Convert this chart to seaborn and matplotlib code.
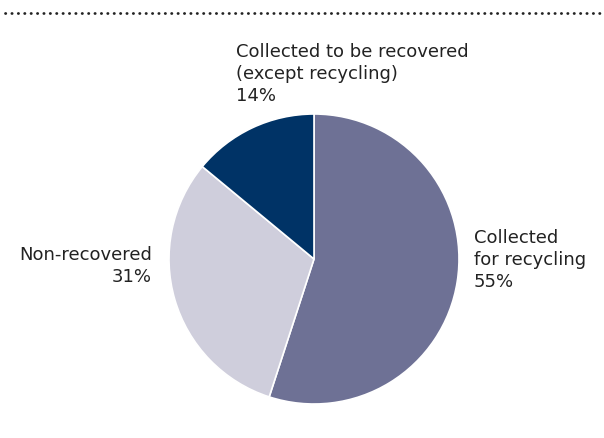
import matplotlib
matplotlib.use('Agg')
import matplotlib.pyplot as plt
import seaborn as sns

# 数据
categories = ['Collected\nfor recycling', 'Non-recovered', 'Collected to be recovered\n(except recycling)']
shares = [55, 31, 14]
colors = ['#6e7195', '#cfcedc', '#003366']

sns.set_theme(style='white')
plt.rcParams['font.family'] = ['DejaVu Sans']

W, H = 604, 439
fig = plt.figure(figsize=(W / 100, H / 100), dpi=100)
ax = fig.add_axes([0, 0, 1, 1])

# 饼图（像素坐标，y向上）
cx, cy, r = 314, H - 260, 145
ax.pie(shares, colors=colors, startangle=90, counterclock=False,
       center=(cx, cy), radius=r, frame=True,
       wedgeprops=dict(edgecolor='white', linewidth=1.2))
ax.set_xlim(0, W)
ax.set_ylim(0, H)
ax.set_aspect('equal')
ax.axis('off')

# 顶部点线
ax.plot([5, 603], [H - 14, H - 14], color='#222222', linewidth=2.0,
        linestyle=(0, (0.1, 2.2)), dash_capstyle='round', solid_capstyle='round')

txt = dict(fontsize=13, color='#222222', linespacing=1.27)
ax.text(474, H - 260, f'{categories[0]}\n{shares[0]}%', ha='left', va='center', **txt)
ax.text(152, H - 266, f'{categories[1]}\n{shares[1]}%', ha='right', va='center', **txt)
ax.text(236, H - 74, f'{categories[2]}\n{shares[2]}%', ha='left', va='center', **txt)

fig.savefig('out.png', dpi=100)
